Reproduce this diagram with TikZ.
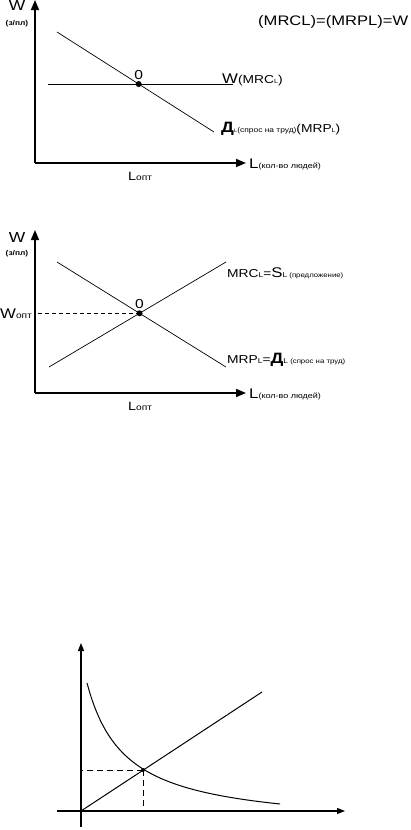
\documentclass[tikz,border=0pt]{standalone}
\usepackage{fontspec}
\setmainfont{Liberation Sans}[FakeStretch=1.2]
\usetikzlibrary{arrows.meta,positioning}

\newcommand{\fsz}[2]{{\fontsize{#1}{#1}\selectfont #2}}

\begin{document}
\begin{tikzpicture}[
    x=1pt, y=-1pt,
    axis/.style={-{Triangle[length=10pt, width=8pt]}, line width=1.5pt},
    thinaxis/.style={-{Triangle[length=8pt, width=6pt]}, line width=1.1pt},
    graph/.style={line width=0.7pt},
    guide/.style={dash pattern=on 4pt off 3pt, line width=0.7pt},
    dot/.style={circle, fill, inner sep=0pt, minimum size=6pt},
    lbl/.style={inner sep=0pt, anchor=base west},
    mid/.style={inner sep=0pt, anchor=base}
]
\useasboundingbox (0,0) rectangle (410,830);

% first chart: flat wage
\coordinate (o1) at (35,163);
\coordinate (y1) at (35,0);
\coordinate (x1) at (246,163);
\draw[axis] (o1) -- (y1);
\draw[axis] (o1) -- (x1);
\coordinate (w1a) at (48,84);
\coordinate (w1b) at (233,84);
\coordinate (d1a) at (57,32);
\coordinate (d1b) at (214,132);
\draw[graph] (w1a) -- (w1b);
\draw[graph] (d1a) -- (d1b);
\node[dot] (eq1) at (intersection of w1a--w1b and d1a--d1b) {};
\node[mid] (zero1) at ([yshift=1.5pt]eq1.north) {\fsz{13}{0}};
\node[mid] (wlab1) at (17,10) {\fsz{14.5}{W}};
\node[mid] (wunit1) at (17,25) {\fsz{7}{\bfseries (з/пл)}};
\node[lbl] (rule) at (258,25) {\fsz{13.8}{(MRCL)=(MRPL)=W}};
\node[lbl] (wage1) at (222,83) {\fsz{14}{W}\fsz{11.5}{(MRC}\fsz{6}{L}\fsz{11.5}{)}};
\node[lbl] (dem1) at (221,132) {\fsz{15}{\bfseries Д}\fsz{5}{L}\fsz{7}{(спрос на труд)}\fsz{11.5}{(MRP}\fsz{6}{L}\fsz{11.5}{)}};
\node[lbl] (llab1) at (249,168) {\fsz{14}{L}\fsz{7.5}{(кол-во людей)}};
\node[lbl] (lopt1) at (128,180) {\fsz{12}{L}\fsz{8.5}{опт}};

% second chart: supply and demand
\coordinate (o2) at (35,393);
\coordinate (y2) at (35,230);
\coordinate (x2) at (246,393);
\draw[axis] (o2) -- (y2);
\draw[axis] (o2) -- (x2);
\coordinate (d2a) at (57,262);
\coordinate (d2b) at (226,367);
\coordinate (s2a) at (49,367);
\coordinate (s2b) at (226,262);
\draw[graph] (d2a) -- (d2b);
\draw[graph] (s2a) -- (s2b);
\node[dot] (eq2) at (intersection of d2a--d2b and s2a--s2b) {};
\draw[guide] (eq2.center) -- (eq2.center -| o2);
\node[mid] (zero2) at ([yshift=1.5pt]eq2.north) {\fsz{13}{0}};
\node[mid] (wlab2) at (17,242) {\fsz{14.5}{W}};
\node[mid] (wunit2) at (17,255) {\fsz{7}{\bfseries (з/пл)}};
\node[lbl] (wopt2) at (0,318) {\fsz{14}{W}\fsz{8.5}{опт}};
\node[lbl] (sup2) at (227,277) {\fsz{11.5}{MRC}\fsz{7}{L}\fsz{11.5}{=}\fsz{14}{S}\fsz{7}{L}\fsz{6.5}{ (предложение)}};
\node[lbl] (dem2) at (227,363) {\fsz{11.5}{MRP}\fsz{7}{L}\fsz{11.5}{=}\fsz{15}{\bfseries Д}\fsz{7}{L}\fsz{6.5}{ (спрос на труд)}};
\node[lbl] (llab2) at (249,398) {\fsz{14}{L}\fsz{7.5}{(кол-во людей)}};
\node[lbl] (lopt2) at (128,410) {\fsz{12}{L}\fsz{8.5}{опт}};

% third chart: curve and ray
\coordinate (o3) at (81,811);
\coordinate (y3a) at (81,827);
\coordinate (y3) at (81,643);
\coordinate (x3a) at (57,811);
\coordinate (x3) at (345,811);
\draw[thinaxis] (y3a) -- (y3);
\draw[thinaxis] (x3a) -- (x3);
\coordinate (r3) at (262,692);
\draw[graph, line width=1pt] (o3) -- (r3);
\draw[graph, line width=1pt] plot[smooth, domain=6:199, samples=60] ({81+\x}, {811-(5587/(\x+32.5)-17.1)});
\node[dot, minimum size=4pt] (eq3) at (143,770) {};
\draw[guide, dash pattern=on 6pt off 4pt, line width=1pt] (eq3.center) -- (eq3.center -| o3);
\draw[guide, dash pattern=on 6pt off 4pt, line width=1pt] (eq3.center) -- (eq3.center |- o3);
\end{tikzpicture}
\end{document}
